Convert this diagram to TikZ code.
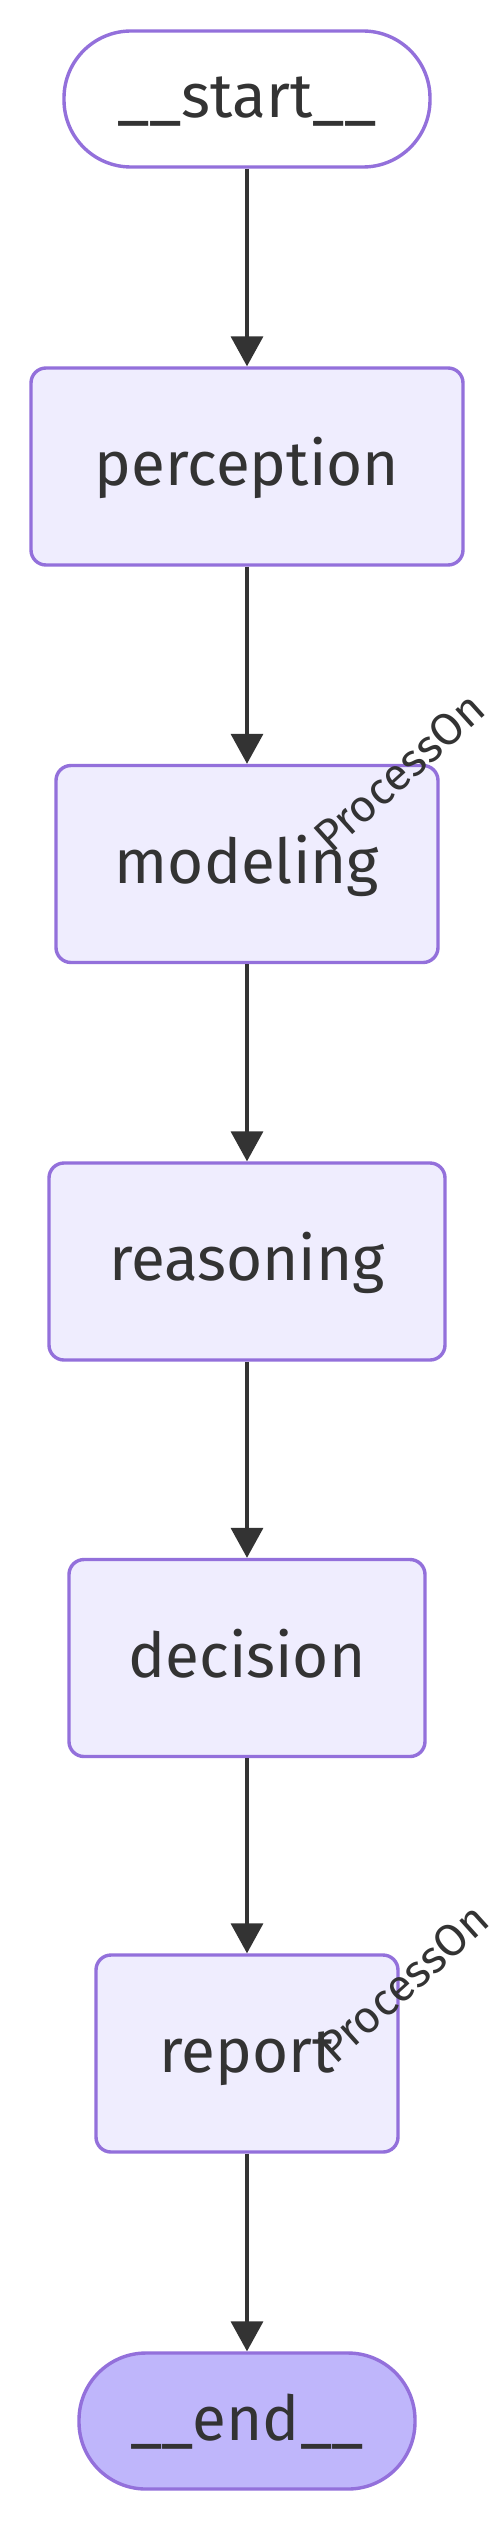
\documentclass[tikz,border=0pt]{standalone}
\usepackage{fontspec}
\setmainfont{Fira Sans}
\usetikzlibrary{arrows.meta}
\definecolor{nodefill}{HTML}{EFEDFE}
\definecolor{nodeline}{HTML}{9370DB}
\definecolor{endfill}{HTML}{BFB6FB}
\definecolor{ink}{HTML}{333333}
\tikzset{
  basenode/.style={draw=nodeline, line width=3.4pt, inner sep=0pt, text=ink,
    font=\fontsize{62}{70}\selectfont, text height=44pt, text depth=6pt},
  stepbox/.style={basenode, fill=nodefill, rounded corners=15pt, minimum height=197pt},
  terminal/.style={basenode, rounded corners=67pt, minimum height=136pt},
  flow/.style={draw=ink, line width=3.6pt, -{Triangle[width=32pt,length=30pt]}},
  wm/.style={text=ink, font=\fontsize{45}{52}\selectfont, inner sep=0pt, anchor=base west}
}
\begin{document}
\begin{tikzpicture}[x=1pt,y=-1pt]
\fill[white] (0,0) rectangle (494,2521);
\useasboundingbox (0,0) rectangle (494,2521);
\node[terminal, fill=white, minimum width=366pt] (start) at (247,99) {\_\_start\_\_};
\node[stepbox, minimum width=432pt] (perception) at (247,466.5) {perception};
\node[stepbox, minimum width=382pt] (modeling) at (247,864) {modeling};
\node[stepbox, minimum width=396pt] (reasoning) at (247,1261.5) {reasoning};
\node[stepbox, minimum width=356pt] (decision) at (247,1658) {decision};
\node[stepbox, minimum width=302pt] (report) at (247,2053.5) {report};
\node[terminal, fill=endfill, minimum width=336pt] (end) at (247,2421) {\_\_end\_\_};
\draw[flow] (start) -- (perception);
\draw[flow] (perception) -- (modeling);
\draw[flow] (modeling) -- (reasoning);
\draw[flow] (reasoning) -- (decision);
\draw[flow] (decision) -- (report);
\draw[flow] (report) -- (end);
\node[wm, rotate=42] (wm1) at (331,855) {ProcessOn};
\node[wm, rotate=42] (wm2) at (335,2066) {ProcessOn};
\end{tikzpicture}
\end{document}
